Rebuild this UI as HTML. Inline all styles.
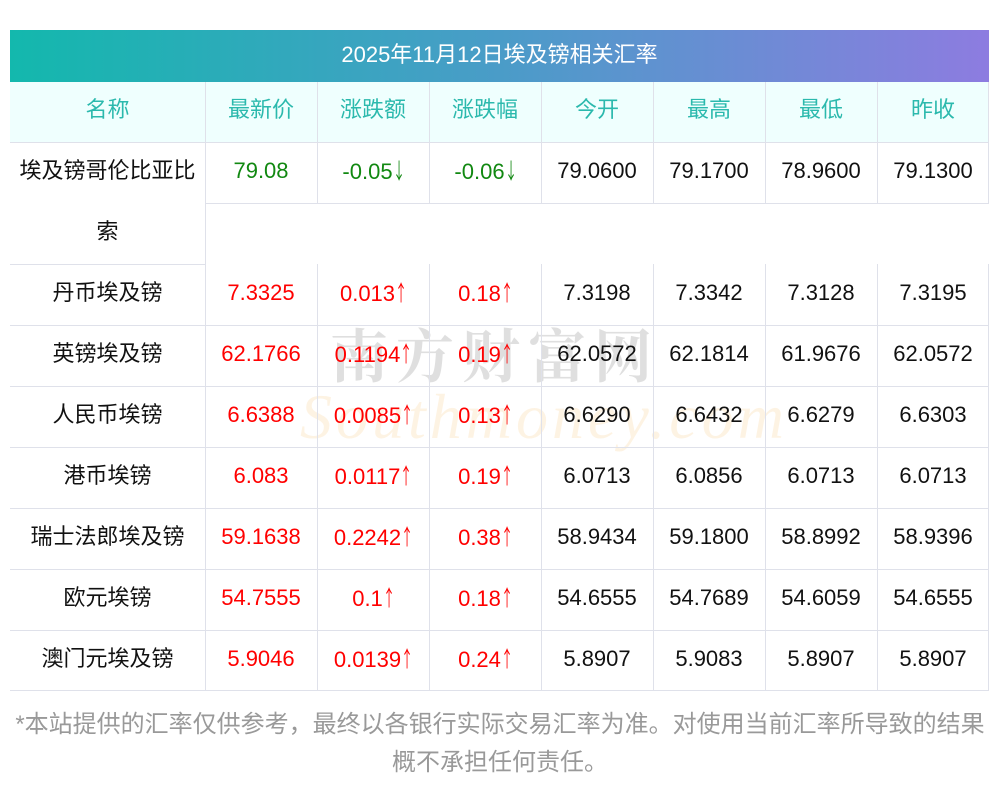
<!DOCTYPE html>
<html><head><meta charset="utf-8"><style>
*{margin:0;padding:0;box-sizing:border-box}
body{width:1000px;height:793px;background:#fff;position:relative;overflow:hidden;font-family:"Liberation Sans","Noto Sans CJK SC",sans-serif}
.a{position:absolute}
.t{position:absolute;height:61px;line-height:61px;text-align:center;font-size:22px;color:#111;white-space:nowrap}
.h{color:#2bb9ad}
.r{color:#f00}.g{color:#118811}
.hl{position:absolute;height:1px;background:#dfe1ea}
.vl{position:absolute;width:1px;background:#dfe1ea}
i{font-style:normal;font-family:"Noto Sans CJK SC",sans-serif;display:inline-block;width:11px;transform:scaleX(0.55);transform-origin:left center;text-align:left}
</style></head><body>
<div class="a" style="left:10px;top:30px;width:979px;height:52px;background:linear-gradient(90deg,#13b8ad,#4a9cc8 50%,#8d7ce0);color:#fff;font-size:22px;line-height:50px;text-align:center">2025年11月12日埃及镑相关汇率</div>
<div class="a" style="left:10px;top:82px;width:979px;height:60px;background:#effffe"></div>
<div class="a" style="left:330px;top:310px;font-size:58px;color:#000;opacity:0.12;letter-spacing:8px;font-family:'Noto Serif CJK SC',serif;font-weight:bold">南方财富网</div>
<div class="a" style="left:300px;top:380px;font-size:64px;color:#f7c47a;opacity:0.2;font-style:italic;font-family:'Liberation Serif',serif;letter-spacing:4px">Southmoney.com</div>
<div class="hl" style="left:10px;top:142px;width:979px"></div>
<div class="hl" style="left:205px;top:203px;width:784px"></div>
<div class="hl" style="left:10px;top:264px;width:195px"></div>
<div class="hl" style="left:10px;top:325px;width:979px"></div>
<div class="hl" style="left:10px;top:386px;width:979px"></div>
<div class="hl" style="left:10px;top:447px;width:979px"></div>
<div class="hl" style="left:10px;top:508px;width:979px"></div>
<div class="hl" style="left:10px;top:569px;width:979px"></div>
<div class="hl" style="left:10px;top:630px;width:979px"></div>
<div class="hl" style="left:10px;top:690px;width:979px"></div>
<div class="vl" style="left:205px;top:82px;height:609px"></div>
<div class="vl" style="left:317px;top:82px;height:121px"></div><div class="vl" style="left:317px;top:264px;height:427px"></div>
<div class="vl" style="left:429px;top:82px;height:121px"></div><div class="vl" style="left:429px;top:264px;height:427px"></div>
<div class="vl" style="left:541px;top:82px;height:121px"></div><div class="vl" style="left:541px;top:264px;height:427px"></div>
<div class="vl" style="left:653px;top:82px;height:121px"></div><div class="vl" style="left:653px;top:264px;height:427px"></div>
<div class="vl" style="left:765px;top:82px;height:121px"></div><div class="vl" style="left:765px;top:264px;height:427px"></div>
<div class="vl" style="left:877px;top:82px;height:121px"></div><div class="vl" style="left:877px;top:264px;height:427px"></div>
<div class="vl" style="left:988px;top:82px;height:121px"></div><div class="vl" style="left:988px;top:264px;height:427px"></div>
<div class="t h" style="left:10px;top:79px;width:195px">名称</div>
<div class="t h" style="left:205px;top:79px;width:112px">最新价</div>
<div class="t h" style="left:317px;top:79px;width:112px">涨跌额</div>
<div class="t h" style="left:429px;top:79px;width:112px">涨跌幅</div>
<div class="t h" style="left:541px;top:79px;width:112px">今开</div>
<div class="t h" style="left:653px;top:79px;width:112px">最高</div>
<div class="t h" style="left:765px;top:79px;width:112px">最低</div>
<div class="t h" style="left:877px;top:79px;width:112px">昨收</div>
<div class="t" style="left:10px;top:140px;width:195px">埃及镑哥伦比亚比</div>
<div class="t" style="left:10px;top:201px;width:195px">索</div>
<div class="t g" style="left:205px;top:140px;width:112px">79.08</div>
<div class="t g" style="left:317px;top:140px;width:112px">-0.05<i>↓</i></div>
<div class="t g" style="left:429px;top:140px;width:112px">-0.06<i>↓</i></div>
<div class="t" style="left:541px;top:140px;width:112px">79.0600</div>
<div class="t" style="left:653px;top:140px;width:112px">79.1700</div>
<div class="t" style="left:765px;top:140px;width:112px">78.9600</div>
<div class="t" style="left:877px;top:140px;width:112px">79.1300</div>
<div class="t" style="left:10px;top:262px;width:195px">丹币埃及镑</div>
<div class="t r" style="left:205px;top:262px;width:112px">7.3325</div>
<div class="t r" style="left:317px;top:262px;width:112px">0.013<i>↑</i></div>
<div class="t r" style="left:429px;top:262px;width:112px">0.18<i>↑</i></div>
<div class="t" style="left:541px;top:262px;width:112px">7.3198</div>
<div class="t" style="left:653px;top:262px;width:112px">7.3342</div>
<div class="t" style="left:765px;top:262px;width:112px">7.3128</div>
<div class="t" style="left:877px;top:262px;width:112px">7.3195</div>
<div class="t" style="left:10px;top:323px;width:195px">英镑埃及镑</div>
<div class="t r" style="left:205px;top:323px;width:112px">62.1766</div>
<div class="t r" style="left:317px;top:323px;width:112px">0.1194<i>↑</i></div>
<div class="t r" style="left:429px;top:323px;width:112px">0.19<i>↑</i></div>
<div class="t" style="left:541px;top:323px;width:112px">62.0572</div>
<div class="t" style="left:653px;top:323px;width:112px">62.1814</div>
<div class="t" style="left:765px;top:323px;width:112px">61.9676</div>
<div class="t" style="left:877px;top:323px;width:112px">62.0572</div>
<div class="t" style="left:10px;top:384px;width:195px">人民币埃镑</div>
<div class="t r" style="left:205px;top:384px;width:112px">6.6388</div>
<div class="t r" style="left:317px;top:384px;width:112px">0.0085<i>↑</i></div>
<div class="t r" style="left:429px;top:384px;width:112px">0.13<i>↑</i></div>
<div class="t" style="left:541px;top:384px;width:112px">6.6290</div>
<div class="t" style="left:653px;top:384px;width:112px">6.6432</div>
<div class="t" style="left:765px;top:384px;width:112px">6.6279</div>
<div class="t" style="left:877px;top:384px;width:112px">6.6303</div>
<div class="t" style="left:10px;top:445px;width:195px">港币埃镑</div>
<div class="t r" style="left:205px;top:445px;width:112px">6.083</div>
<div class="t r" style="left:317px;top:445px;width:112px">0.0117<i>↑</i></div>
<div class="t r" style="left:429px;top:445px;width:112px">0.19<i>↑</i></div>
<div class="t" style="left:541px;top:445px;width:112px">6.0713</div>
<div class="t" style="left:653px;top:445px;width:112px">6.0856</div>
<div class="t" style="left:765px;top:445px;width:112px">6.0713</div>
<div class="t" style="left:877px;top:445px;width:112px">6.0713</div>
<div class="t" style="left:10px;top:506px;width:195px">瑞士法郎埃及镑</div>
<div class="t r" style="left:205px;top:506px;width:112px">59.1638</div>
<div class="t r" style="left:317px;top:506px;width:112px">0.2242<i>↑</i></div>
<div class="t r" style="left:429px;top:506px;width:112px">0.38<i>↑</i></div>
<div class="t" style="left:541px;top:506px;width:112px">58.9434</div>
<div class="t" style="left:653px;top:506px;width:112px">59.1800</div>
<div class="t" style="left:765px;top:506px;width:112px">58.8992</div>
<div class="t" style="left:877px;top:506px;width:112px">58.9396</div>
<div class="t" style="left:10px;top:567px;width:195px">欧元埃镑</div>
<div class="t r" style="left:205px;top:567px;width:112px">54.7555</div>
<div class="t r" style="left:317px;top:567px;width:112px">0.1<i>↑</i></div>
<div class="t r" style="left:429px;top:567px;width:112px">0.18<i>↑</i></div>
<div class="t" style="left:541px;top:567px;width:112px">54.6555</div>
<div class="t" style="left:653px;top:567px;width:112px">54.7689</div>
<div class="t" style="left:765px;top:567px;width:112px">54.6059</div>
<div class="t" style="left:877px;top:567px;width:112px">54.6555</div>
<div class="t" style="left:10px;top:628px;width:195px">澳门元埃及镑</div>
<div class="t r" style="left:205px;top:628px;width:112px">5.9046</div>
<div class="t r" style="left:317px;top:628px;width:112px">0.0139<i>↑</i></div>
<div class="t r" style="left:429px;top:628px;width:112px">0.24<i>↑</i></div>
<div class="t" style="left:541px;top:628px;width:112px">5.8907</div>
<div class="t" style="left:653px;top:628px;width:112px">5.9083</div>
<div class="t" style="left:765px;top:628px;width:112px">5.8907</div>
<div class="t" style="left:877px;top:628px;width:112px">5.8907</div>
<div class="a" style="left:0;top:706px;width:1000px;text-align:center;font-size:24px;line-height:38px;color:#999;white-space:nowrap">*本站提供的汇率仅供参考，最终以各银行实际交易汇率为准。对使用当前汇率所导致的结果<br>概不承担任何责任。</div>
</body></html>
